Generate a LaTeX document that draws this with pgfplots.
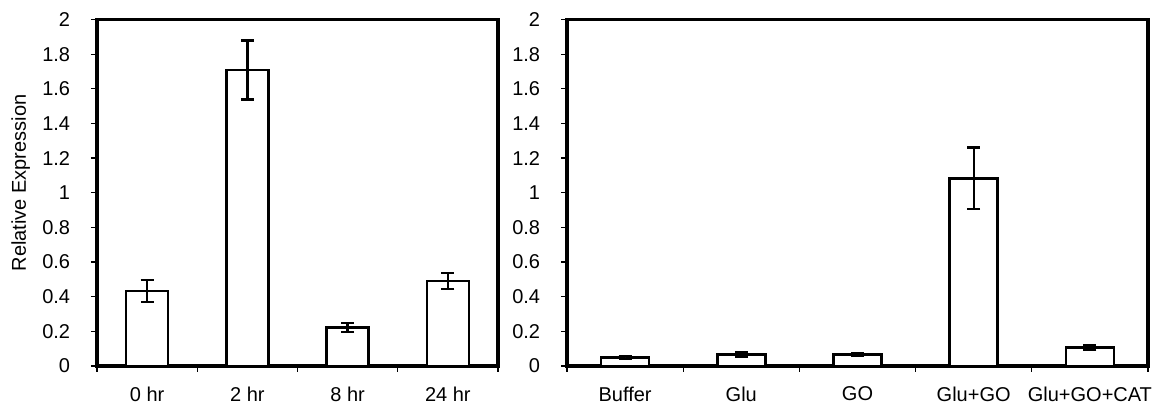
\documentclass[border=0pt]{standalone}
\usepackage{pgfplots}
\pgfplotsset{compat=1.18}
\usepackage{fontspec}
\setmainfont{Liberation Sans}

% expression time course and treatment panel (mean, error)
\pgfplotstableread{
x y e
0 0.433 0.063
1 1.708 0.170
2 0.223 0.025
3 0.490 0.046
}\timecourse
\pgfplotstableread{
x y e
0 0.048 0.006
1 0.067 0.012
2 0.067 0.007
3 1.083 0.178
4 0.108 0.013
}\treatment

\pgfplotsset{
  barpanel/.style={
    scale only axis,
    height=346.5pt,
    ymin=0, ymax=2,
    ytick={0,0.2,0.4,0.6,0.8,1,1.2,1.4,1.6,1.8,2},
    yticklabel style={/pgf/number format/fixed,
      /pgf/number format/precision=1,
      /pgf/number format/assume math mode=true},
    line width=3.2pt,
    tick align=outside,
    xtick pos=left, ytick pos=left,
    major tick length=6pt, minor tick length=6pt,
    every tick/.style={black, line width=1.2pt},
    major x tick style={draw=none},
    minor x tick style={black, line width=1.2pt},
    ticklabel style={font=\fontsize{20}{22}\selectfont},
    xticklabel style={yshift=-10pt},
    yticklabel style={xshift=-16pt},
    ybar,
  },
  barstyle/.style={
    fill=white, draw=black, line width=2.6pt,
    error bars/.cd, y dir=both, y explicit,
    error bar style={line width=2.3pt},
    error mark options={rotate=90, mark size=6.5pt, line width=2.3pt},
  },
}

\begin{document}
\begin{tikzpicture}
\useasboundingbox (0,0) rectangle (1163pt,404pt);

\begin{axis}[barpanel,
  at={(97pt,38pt)}, anchor=south west,
  width=401pt,
  xmin=-0.5, xmax=3.5,
  bar width=42pt,
  xtick={0,1,2,3},
  xticklabels={0 hr, 2 hr, 8 hr, 24 hr},
  minor xtick={-0.5,0.5,1.5,2.5,3.5},
  ylabel={Relative Expression},
  ylabel style={at={(axis description cs:-0.19,0.528)}, anchor=center,
    font=\fontsize{20}{22}\selectfont},
]
\addplot[barstyle] table[x=x, y=y, y error=e] {\timecourse};
\end{axis}

\begin{axis}[barpanel,
  at={(567pt,38pt)}, anchor=south west,
  width=581pt,
  xmin=-0.5, xmax=4.5,
  bar width=48pt,
  xtick={0,1,2,3,4},
  xticklabels={Buffer, Glu, GO, Glu+GO, Glu+GO+CAT},
  minor xtick={-0.5,0.5,1.5,2.5,3.5,4.5},
]
\addplot[barstyle] table[x=x, y=y, y error=e] {\treatment};
\end{axis}
\end{tikzpicture}
\end{document}
